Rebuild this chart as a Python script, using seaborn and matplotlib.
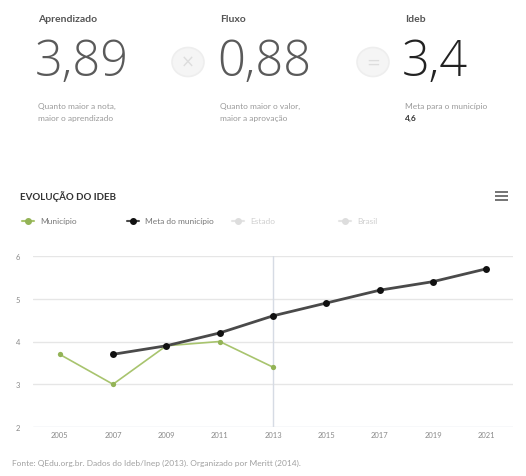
import numpy as np
import pandas as pd
import matplotlib
matplotlib.use("Agg")
import matplotlib.pyplot as plt
from matplotlib.lines import Line2D
from matplotlib.patches import Circle, Rectangle
import seaborn as sns

# --- data -------------------------------------------------------------
anos = [2005, 2007, 2009, 2011, 2013, 2015, 2017, 2019, 2021]
municipio = [3.7, 3.0, 3.9, 4.0, 3.4, None, None, None, None]
meta_municipio = [None, 3.7, 3.9, 4.2, 4.6, 4.9, 5.2, 5.4, 5.7]
y_ticks = [2, 3, 4, 5, 6]

kpi_titles = ["Aprendizado", "Fluxo", "Ideb"]
kpi_values = ["3,89", "0,88", "3,4"]
kpi_notes = [["Quanto maior a nota,", "maior o aprendizado"],
             ["Quanto maior o valor,", "maior a aprovação"],
             ["Meta para o município", "4,6"]]
legend_labels = ["Município", "Meta do município", "Estado", "Brasil"]
chart_title = "EVOLUÇÃO DO IDEB"
fonte = "Fonte: QEdu.org.br. Dados do Ideb/Inep (2013). Organizado por Meritt (2014)."

# --- figure -----------------------------------------------------------
W, H = 526, 477
sns.set_theme(style="white")
plt.rcParams["font.family"] = ["Lato", "DejaVu Sans"]

fig = plt.figure(figsize=(W / 100, H / 100), dpi=100)
fig.patch.set_facecolor("white")


def fx(x):
    return x / W


def fy(y):
    return 1 - y / H


# KPI header
kpi_x = [38, 220, 405]
for i, x in enumerate(kpi_x):
    fig.text(fx(x), fy(20), kpi_titles[i], fontsize=7.5, fontweight="bold",
             color="#555555", va="center", ha="left")
    fig.text(fx(x - 3), fy(63), kpi_values[i], fontsize=35,
             family=["Open Sans", "DejaVu Sans"], fontweight="light",
             color="#222222" if i == 2 else "#5a5a5a", va="center", ha="left")
    fig.text(fx(x), fy(106), kpi_notes[i][0], fontsize=6, color="#9a9a9a",
             va="center", ha="left")
    if i == 2:
        fig.text(fx(x), fy(118), kpi_notes[i][1], fontsize=6, fontweight="bold",
                 color="#333333", va="center", ha="left")
    else:
        fig.text(fx(x), fy(118), kpi_notes[i][1], fontsize=6, color="#9a9a9a",
                 va="center", ha="left")

# operator circles between the KPIs
for cx, sym in [(188, "×"), (373, "=")]:
    fig.add_artist(Circle((fx(cx), fy(63)), 16 / W, transform=fig.transFigure,
                          facecolor="#f5f5f5", edgecolor="#eeeeee", lw=1.2))
    fig.text(fx(cx), fy(63), sym, fontsize=12, color="#dddddd",
             ha="center", va="center", family="DejaVu Sans")

# chart title and menu icon
fig.text(fx(20), fy(197), chart_title, fontsize=7, fontweight="bold",
         color="#333333", va="center", ha="left")
for dy in (193, 197, 201):
    fig.add_artist(Rectangle((fx(495), fy(dy + 1)), 13 / W, 2 / H,
                             transform=fig.transFigure, facecolor="#777777",
                             edgecolor="none"))

# --- line chart -------------------------------------------------------
ax = fig.add_axes([fx(33), fy(428), (513 - 33) / W, (428 - 257) / H])

df_mun = pd.DataFrame({"ano": anos, "valor": municipio}).dropna()
df_meta = pd.DataFrame({"ano": anos, "valor": meta_municipio}).dropna()

ax.axvline(2013, color="#d6dbe4", lw=1, zorder=1)

sns.lineplot(data=df_mun, x="ano", y="valor", ax=ax, color="#a8c46e",
             lw=1.2, marker="o", markersize=3.8, markeredgewidth=0,
             markerfacecolor="#93b356", zorder=3)
sns.lineplot(data=df_meta, x="ano", y="valor", ax=ax, color="#4a4a4a",
             lw=2.0, marker="o", markersize=5, markeredgewidth=0,
             markerfacecolor="#111111", zorder=4)

ax.set_xlim(2004, 2022)
ax.set_ylim(2, 6)
ax.set_xticks(anos)
ax.set_xticklabels([str(a) for a in anos])
ax.set_yticks(y_ticks)
ax.set_xlabel("")
ax.set_ylabel("")
for s in ax.spines.values():
    s.set_visible(False)
for y in y_ticks:
    ax.axhline(y, color="#e6e6e6" if y > 2 else "#d8dde6", lw=1, zorder=0)
ax.tick_params(axis="both", length=0, labelsize=5.5, labelcolor="#8a8a8a")
ax.tick_params(axis="y", pad=9)
ax.tick_params(axis="x", pad=3)
ax.set_facecolor("white")

# legend row
leg_items = [
    (28, "#93b356", "#a8c46e", "#777777"),
    (133, "#111111", "#4a4a4a", "#777777"),
    (238, "#dddddd", "#e4e4e4", "#cfcfcf"),
    (345, "#dddddd", "#e4e4e4", "#cfcfcf"),
]
for (x0, mc, lc, tc), lab in zip(leg_items, legend_labels):
    fig.add_artist(Line2D([fx(x0 - 6), fx(x0 + 6)], [fy(222), fy(222)],
                          transform=fig.transFigure, color=lc, lw=1.5))
    fig.add_artist(Line2D([fx(x0)], [fy(222)], transform=fig.transFigure,
                          marker="o", markersize=4, color=mc, lw=0))
    fig.text(fx(x0 + 12), fy(222), lab, fontsize=6, color=tc,
             va="center", ha="left")

fig.text(fx(12), fy(463), fonte, fontsize=6, color="#a0a0a0",
         va="center", ha="left")

fig.savefig("out.png", dpi=100, facecolor="white")
